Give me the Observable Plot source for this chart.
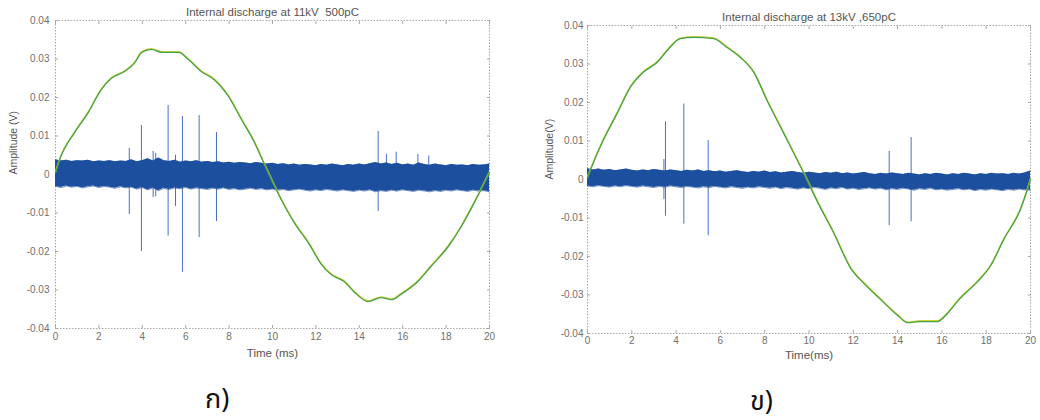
<!DOCTYPE html>
<html>
<head>
<meta charset="utf-8">
<script src="https://cdn.jsdelivr.net/npm/d3@7"></script>
<script src="https://cdn.jsdelivr.net/npm/@observablehq/plot@0.6"></script>
<style>
  html, body { margin: 0; padding: 0; background: #ffffff; }
  #wrap { position: relative; width: 1040px; height: 420px; }
  #left { position: absolute; left: 0; top: 0; }
  #right { position: absolute; left: 520px; top: 0; }
  .cap { position: absolute; font-family: "Noto Sans Thai", "Noto Serif Thai", "Noto Sans", "DejaVu Sans", sans-serif; font-size: 27px; color: #111; line-height: 1.15; }
</style>
</head>
<body>
<div id="wrap">
  <div id="left"></div>
  <div id="right"></div>
  <div class="cap" id="capA" style="left:205px; top:384px;">ก)</div>
  <div class="cap" id="capB" style="left:750px; top:386px;">ข)</div>
</div>
<script>
// ---------- shared ----------
const xTicks = [0, 2, 4, 6, 8, 10, 12, 14, 16, 18, 20];
const yTicks = [-0.04, -0.03, -0.02, -0.01, 0, 0.01, 0.02, 0.03, 0.04];
const bandTimes = d3.range(0, 20.001, 0.25);

// ---------- panel ก) 11 kV ----------
const titleA = "Internal discharge at 11kV  500pC";
const xLabelA = "Time (ms)";
const yLabelA = "Amplitude (V)";
const waveTimeA = [0, 0.2, 0.88, 1.5, 2.1, 2.58, 3.2, 3.65, 3.97, 4.42, 4.9, 5.67, 6.1, 6.7, 7.3, 7.97, 8.57, 9.17, 9.63, 10.4, 11.0, 11.65, 12.26, 12.7, 13.3, 13.8, 14.4, 15.0, 15.5, 15.9, 16.7, 17.3, 18.1, 18.7, 19.3, 19.6, 20];
const waveValA = [0.0005, 0.004, 0.0109, 0.016, 0.022, 0.025, 0.0268, 0.029, 0.0317, 0.0325, 0.0317, 0.0317, 0.030, 0.0268, 0.0247, 0.0203, 0.0143, 0.0083, 0.0026, -0.0065, -0.0125, -0.0177, -0.0234, -0.026, -0.0278, -0.0307, -0.033, -0.032, -0.0325, -0.0312, -0.0278, -0.0239, -0.0187, -0.0135, -0.0073, -0.004, 0.0005];
const bandTopA = [0.0038,0.0035,0.0037,0.0034,0.0036,0.0035,0.0037,0.0033,0.0035,0.0034,0.0036,0.0033,0.0035,0.0034,0.0038,0.0033,0.0036,0.0041,0.0035,0.0043,0.0036,0.0034,0.0037,0.0032,0.0035,0.0033,0.0036,0.0032,0.0034,0.0031,0.0033,0.0030,0.0032,0.0029,0.0031,0.0030,0.0028,0.0031,0.0029,0.0027,0.0029,0.0026,0.0028,0.0025,0.0027,0.0024,0.0026,0.0025,0.0023,0.0026,0.0024,0.0027,0.0025,0.0023,0.0026,0.0024,0.0027,0.0025,0.0028,0.0031,0.0027,0.0030,0.0026,0.0029,0.0025,0.0027,0.0024,0.0030,0.0026,0.0024,0.0027,0.0025,0.0023,0.0026,0.0024,0.0025,0.0023,0.0026,0.0024,0.0025,0.0027];
const bandBotA = [-0.0031,-0.0034,-0.0030,-0.0033,-0.0031,-0.0035,-0.0032,-0.0030,-0.0034,-0.0031,-0.0033,-0.0036,-0.0032,-0.0035,-0.0033,-0.0038,-0.0034,-0.0040,-0.0035,-0.0042,-0.0036,-0.0039,-0.0035,-0.0037,-0.0034,-0.0038,-0.0035,-0.0037,-0.0039,-0.0036,-0.0038,-0.0035,-0.0039,-0.0037,-0.0040,-0.0038,-0.0036,-0.0039,-0.0037,-0.0040,-0.0038,-0.0041,-0.0039,-0.0042,-0.0040,-0.0038,-0.0041,-0.0043,-0.0040,-0.0042,-0.0039,-0.0041,-0.0043,-0.0040,-0.0042,-0.0044,-0.0041,-0.0043,-0.0040,-0.0045,-0.0042,-0.0044,-0.0041,-0.0043,-0.0040,-0.0042,-0.0044,-0.0041,-0.0043,-0.0045,-0.0042,-0.0044,-0.0041,-0.0043,-0.0040,-0.0042,-0.0044,-0.0041,-0.0043,-0.0042,-0.0045];
const spikeTimeA = [3.4, 3.96, 4.5, 4.62, 5.19, 5.53, 5.85, 6.62, 7.42, 14.87, 15.25, 15.7, 16.7, 17.2];
const spikeTopA  = [0.0068, 0.0127, 0.006, 0.0055, 0.0179, 0.005, 0.0151, 0.0153, 0.0109, 0.0112, 0.0052, 0.0058, 0.0052, 0.0048];
const spikeBotA  = [-0.0104, -0.020, -0.006, -0.0058, -0.016, -0.0083, -0.0254, -0.0164, -0.0122, -0.0096, -0.004, -0.0045, -0.004, -0.0042];

// ---------- panel ข) 13 kV ----------
const titleB = "Internal discharge at 13kV ,650pC";
const xLabelB = "Time(ms)";
const yLabelB = "Amplitude(V)";
const waveTimeB = [0, 0.14, 0.72, 1.35, 1.94, 2.53, 3.16, 3.6, 4.2, 4.8, 5.7, 6.3, 6.9, 7.5, 8.1, 8.85, 9.75, 10.4, 11.1, 11.9, 12.5, 13.2, 14.0, 14.45, 15.0, 15.8, 16.25, 16.8, 17.6, 18.2, 18.8, 19.55, 19.86, 20];
const waveValB = [0.0005, 0.0026, 0.0103, 0.0173, 0.024, 0.0279, 0.0305, 0.0335, 0.0366, 0.0369, 0.0366, 0.0343, 0.0317, 0.0279, 0.0206, 0.0121, 0.0018, -0.006, -0.0137, -0.0232, -0.0271, -0.031, -0.0353, -0.0372, -0.0369, -0.0369, -0.0348, -0.031, -0.0266, -0.0224, -0.0155, -0.0077, -0.0026, 0.0];
const bandTopB = [0.0028,0.0025,0.0027,0.0024,0.0026,0.0023,0.0025,0.0027,0.0024,0.0022,0.0025,0.0023,0.0026,0.0024,0.0022,0.0025,0.0023,0.0021,0.0024,0.0022,0.0025,0.0021,0.0023,0.0020,0.0022,0.0019,0.0021,0.0023,0.0020,0.0018,0.0021,0.0019,0.0022,0.0018,0.0020,0.0017,0.0019,0.0021,0.0018,0.0016,0.0019,0.0017,0.0015,0.0018,0.0016,0.0019,0.0015,0.0017,0.0014,0.0016,0.0018,0.0015,0.0013,0.0016,0.0014,0.0017,0.0015,0.0013,0.0016,0.0014,0.0012,0.0015,0.0013,0.0016,0.0014,0.0012,0.0015,0.0013,0.0016,0.0014,0.0012,0.0015,0.0013,0.0016,0.0014,0.0015,0.0013,0.0016,0.0014,0.0017,0.0022];
const bandBotB = [-0.0017,-0.0019,-0.0016,-0.0018,-0.0020,-0.0017,-0.0019,-0.0016,-0.0018,-0.0020,-0.0017,-0.0019,-0.0021,-0.0018,-0.0020,-0.0017,-0.0019,-0.0021,-0.0018,-0.0020,-0.0022,-0.0019,-0.0021,-0.0018,-0.0020,-0.0022,-0.0019,-0.0021,-0.0023,-0.0020,-0.0022,-0.0019,-0.0021,-0.0023,-0.0020,-0.0024,-0.0021,-0.0023,-0.0025,-0.0022,-0.0024,-0.0021,-0.0023,-0.0026,-0.0022,-0.0024,-0.0021,-0.0025,-0.0023,-0.0026,-0.0024,-0.0022,-0.0025,-0.0023,-0.0027,-0.0024,-0.0026,-0.0023,-0.0025,-0.0028,-0.0024,-0.0026,-0.0023,-0.0027,-0.0025,-0.0028,-0.0026,-0.0024,-0.0027,-0.0025,-0.0029,-0.0026,-0.0028,-0.0025,-0.0027,-0.0029,-0.0026,-0.0028,-0.0025,-0.0027,-0.0028];
const spikeTimeB = [3.45, 3.52, 4.35, 5.45, 13.62, 14.61];
const spikeTopB  = [0.0052, 0.015, 0.0196, 0.0101, 0.0073, 0.0109];
const spikeBotB  = [-0.0052, -0.0095, -0.0116, -0.0146, -0.012, -0.011];

const yFmt = d => d === 0 ? "0" : (d < 0 ? "-" : "") + Math.abs(d).toFixed(2);

function panel(cfg) {
  const wave = cfg.waveTime.map((t, i) => ({t, v: cfg.waveVal[i]}));
  const band = bandTimes.map((t, i) => ({t, top: cfg.bandTop[i], bot: cfg.bandBot[i]})).filter(d => d.top !== undefined && d.bot !== undefined);
  const spikes = cfg.spikeTime.map((t, i) => ({t, top: cfg.spikeTop[i], bot: cfg.spikeBot[i]}));
  return Plot.plot({
    width: 520,
    height: 365,
    marginLeft: cfg.ml,
    marginRight: cfg.mr,
    marginTop: cfg.mt,
    marginBottom: cfg.mb,
    x: {domain: [0, 20]},
    y: {domain: [-0.04, 0.04]},
    style: {fontFamily: "'Liberation Sans', Arial, sans-serif", fontSize: "10px", color: "#707070", background: "#ffffff", overflow: "visible"},
    marks: [
      Plot.frame({stroke: "#a8a8a8", strokeDasharray: "1.5,1.5"}),
      Plot.axisX({ticks: xTicks, tickSize: -3, tickPadding: cfg.xPad, tickFormat: d => String(d), label: null, stroke: "#a8a8a8"}),
      Plot.axisX({ticks: xTicks, anchor: "top", tickSize: -3, tickFormat: () => "", label: null, stroke: "#a8a8a8"}),
      Plot.axisY({ticks: yTicks, tickSize: -3, tickPadding: cfg.yPad, tickFormat: yFmt, label: null, stroke: "#a8a8a8"}),
      Plot.axisY({ticks: yTicks, anchor: "right", tickSize: -3, tickFormat: () => "", label: null, stroke: "#a8a8a8"}),
      Plot.ruleX(spikes, {x: "t", y1: "bot", y2: "top", stroke: "#4a70c6", strokeWidth: 1}),
      Plot.areaY(band, {x: "t", y1: "bot", y2: "top", fill: "#1d4f9f", curve: "linear"}),
      Plot.line(band, {x: "t", y: "top", stroke: "#1d4f9f", strokeWidth: 0.6}),
      Plot.line(band, {x: "t", y: "bot", stroke: "#1d4f9f", strokeWidth: 0.6}),
      Plot.line(wave, {x: "t", y: "v", stroke: "#d2d43c", strokeWidth: 1.5, dy: -0.7, curve: "monotone-x"}),
      Plot.line(wave, {x: "t", y: "v", stroke: "#45a24c", strokeWidth: 1.3, curve: "monotone-x"}),
      Plot.text([cfg.title], {frameAnchor: "top", lineAnchor: "middle", dy: -8, fill: "#555", fontSize: 11.5}),
      Plot.text([cfg.xLabel], {frameAnchor: "bottom", lineAnchor: "middle", dy: cfg.xLabelDy, fill: "#555", fontSize: 11.5}),
      Plot.text([cfg.yLabel], {frameAnchor: "left", lineAnchor: "middle", dx: cfg.yLabelDx, rotate: -90, fill: "#555", fontSize: 10.5})
    ]
  });
}

document.getElementById("left").appendChild(panel({
  title: titleA, xLabel: xLabelA, yLabel: yLabelA,
  waveTime: waveTimeA, waveVal: waveValA, bandTop: bandTopA, bandBot: bandBotA,
  spikeTime: spikeTimeA, spikeTop: spikeTopA, spikeBot: spikeBotA,
  ml: 55, mr: 31, mt: 20, mb: 37, xLabelDy: 25, yLabelDx: -42, yPad: 9, xPad: 7
}));
document.getElementById("right").appendChild(panel({
  title: titleB, xLabel: xLabelB, yLabel: yLabelB,
  waveTime: waveTimeB, waveVal: waveValB, bandTop: bandTopB, bandBot: bandBotB,
  spikeTime: spikeTimeB, spikeTop: spikeTopB, spikeBot: spikeBotB,
  ml: 67, mr: 10, mt: 25, mb: 32, xLabelDy: 22, yLabelDx: -38, yPad: 7, xPad: 6
}));
</script>
</body>
</html>
